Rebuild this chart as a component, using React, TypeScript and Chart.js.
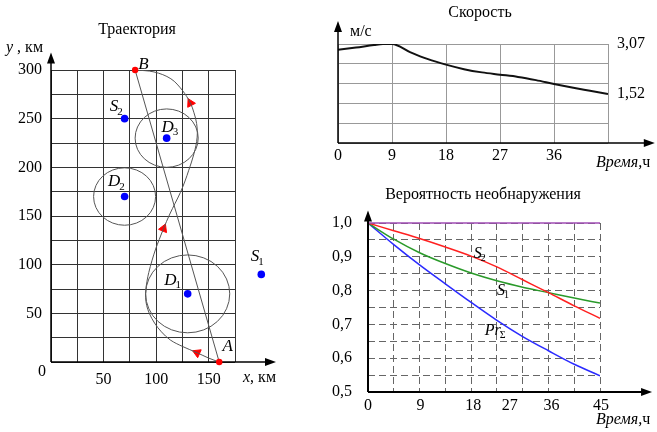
import React, { useEffect, useRef } from 'react';
import { Chart, registerables } from 'chart.js';
Chart.register(...registerables);

const FONT = '"Liberation Serif", "Times New Roman", serif';

// ---------- Trajectory data (km) ----------
const trajectoryPath = [
  { x: 160, y: 0 }, { x: 150, y: 4 }, { x: 139, y: 9.5 }, { x: 125, y: 16 }, { x: 113.5, y: 22.6 },
  { x: 105, y: 31 }, { x: 98.5, y: 40 }, { x: 93.5, y: 50 }, { x: 91, y: 58 }, { x: 90, y: 66 },
  { x: 90.2, y: 74 }, { x: 91.3, y: 83 }, { x: 93, y: 92 }, { x: 96, y: 104 }, { x: 99.5, y: 116 },
  { x: 103, y: 126 }, { x: 107, y: 137 }, { x: 113, y: 152 }, { x: 118, y: 163 }, { x: 123, y: 174 },
  { x: 127.5, y: 186 }, { x: 131, y: 197 }, { x: 136, y: 214 }, { x: 139, y: 231 }, { x: 138.5, y: 245 },
  { x: 136, y: 256 }, { x: 132.6, y: 266 }, { x: 125, y: 279 }, { x: 114, y: 291 }, { x: 98, y: 298 },
  { x: 80, y: 300 },
];
const arrowIdx = [2, 16, 26];
const routeEnds = [{ x: 160, y: 0, name: 'A' }, { x: 80, y: 300, name: 'B' }];
const sensors = [{ x: 200, y: 90, name: 'S', sub: '1' }, { x: 70, y: 250, name: 'S', sub: '2' }];
const zones = [
  { x: 130, y: 70, r: 40, name: 'D', sub: '1' },
  { x: 70, y: 170, r: 29.5, name: 'D', sub: '2' },
  { x: 110, y: 230, r: 30, name: 'D', sub: '3' },
];
const trajLabels = [
  { x: 168, y: 15.7, main: 'A', sub: '' },
  { x: 88, y: 306, main: 'B', sub: '' },
  { x: 194, y: 108, main: 'S', sub: '1' },
  { x: 60, y: 262, main: 'S', sub: '2' },
  { x: 113.5, y: 84, main: 'D', sub: '1' },
  { x: 60, y: 185, main: 'D', sub: '2' },
  { x: 111, y: 241, main: 'D', sub: '3' },
];
const trajAxisEnd = { x: 214, y: 318 };

// ---------- Speed data ----------
const speedHours = [0, 3, 6, 7.5, 9, 12, 15, 18, 21, 24, 27, 30, 33, 36, 39, 42, 45];
const speedValues = [2.89, 2.96, 3.04, 3.07, 3.07, 2.82, 2.6, 2.43, 2.29, 2.19, 2.12, 2.05, 1.95, 1.83, 1.72, 1.62, 1.52];
const speedMarks = [3.07, 1.52];
const speedAxisEnd = { x: 52.8, y: 3.78 };

// ---------- Probability data ----------
const probHours = [0, 5, 10, 15, 20, 25, 30, 35, 40, 45];
const probS2 = [1.0, 0.977, 0.954, 0.929, 0.902, 0.87, 0.832, 0.794, 0.755, 0.718];
const probS1 = [1.0, 0.952, 0.912, 0.88, 0.852, 0.829, 0.81, 0.794, 0.778, 0.763];
const probSum = [1.0, 0.936, 0.876, 0.82, 0.765, 0.712, 0.664, 0.622, 0.582, 0.548];
const probTickLabels = ['0', '9', '18', '27', '36', '45'];
const probTickAt = [0, 10.2, 20.4, 27.5, 35.6, 45.2];
const probCurveLabels = [
  { x: 21.3, y: 0.91, main: 'S', sub: '2' },
  { x: 25.8, y: 0.8, main: 'S', sub: '1' },
  { x: 24.2, y: 0.68, main: 'Pr', sub: 'Σ' },
];
const probAxisEnd = { x: 55.1, y: 1.037 };

function arrowLine(ctx: CanvasRenderingContext2D, x1: number, y1: number, x2: number, y2: number) {
  const a = Math.atan2(y2 - y1, x2 - x1);
  const len = 11, half = 4;
  ctx.beginPath();
  ctx.moveTo(x1, y1);
  ctx.lineTo(x2 - Math.cos(a) * len * 0.7, y2 - Math.sin(a) * len * 0.7);
  ctx.stroke();
  ctx.beginPath();
  ctx.moveTo(x2, y2);
  ctx.lineTo(x2 - len * Math.cos(a) + half * Math.sin(a), y2 - len * Math.sin(a) - half * Math.cos(a));
  ctx.lineTo(x2 - len * Math.cos(a) - half * Math.sin(a), y2 - len * Math.sin(a) + half * Math.cos(a));
  ctx.closePath();
  ctx.fill();
}

function subLabel(ctx: CanvasRenderingContext2D, x: number, y: number, main: string, sub: string, size = 17) {
  ctx.save();
  ctx.fillStyle = '#000';
  ctx.textBaseline = 'middle';
  ctx.font = `italic ${size}px ${FONT}`;
  const w = ctx.measureText(main).width;
  ctx.textAlign = 'left';
  ctx.fillText(main, x - w / 2, y);
  if (sub) {
    ctx.font = `${Math.round(size * 0.62)}px ${FONT}`;
    ctx.fillText(sub, x + w / 2 - 1, y + size * 0.28);
  }
  ctx.restore();
}

function text(ctx: CanvasRenderingContext2D, s: string, x: number, y: number, align: CanvasTextAlign = 'center', font = `16px ${FONT}`) {
  ctx.save();
  ctx.fillStyle = '#000';
  ctx.font = font;
  ctx.textAlign = align;
  ctx.textBaseline = 'middle';
  ctx.fillText(s, x, y);
  ctx.restore();
}

function mixedText(ctx: CanvasRenderingContext2D, parts: [string, boolean][], x: number, y: number, size = 16) {
  ctx.save();
  ctx.fillStyle = '#000';
  ctx.textBaseline = 'middle';
  ctx.textAlign = 'left';
  let cx = x;
  for (const [s, it] of parts) {
    ctx.font = `${it ? 'italic ' : ''}${size}px ${FONT}`;
    ctx.fillText(s, cx, y);
    cx += ctx.measureText(s).width;
  }
  ctx.restore();
}

const fixW = (w: number) => (s: any) => { s.width = w; };
const fixH = (h: number) => (s: any) => { s.height = h; };

export default function App() {
  const r1 = useRef<HTMLCanvasElement>(null);
  const r2 = useRef<HTMLCanvasElement>(null);
  const r3 = useRef<HTMLCanvasElement>(null);

  useEffect(() => {
    const tickFont = { family: FONT, size: 16 };

    // ---------------- Trajectory ----------------
    const trajPlugin = {
      id: 'traj',
      beforeDatasetsDraw(chart: any) {
        const { ctx, scales: { x, y } } = chart;
        ctx.save();
        ctx.strokeStyle = '#555';
        ctx.lineWidth = 1;
        for (const z of zones) {
          const cx = x.getPixelForValue(z.x), cy = y.getPixelForValue(z.y);
          const rx = Math.abs(x.getPixelForValue(z.x + z.r) - cx);
          const ry = Math.abs(y.getPixelForValue(z.y + z.r) - cy);
          ctx.beginPath();
          ctx.ellipse(cx, cy, rx, ry, 0, 0, Math.PI * 2);
          ctx.stroke();
        }
        ctx.restore();
      },
      afterDatasetsDraw(chart: any) {
        const { ctx, scales: { x, y } } = chart;
        ctx.save();
        ctx.fillStyle = '#0000ff';
        for (const p of [...sensors, ...zones]) {
          ctx.beginPath();
          ctx.arc(x.getPixelForValue(p.x), y.getPixelForValue(p.y), 3.8, 0, Math.PI * 2);
          ctx.fill();
        }
        ctx.restore();
      },
      afterDraw(chart: any) {
        const { ctx, chartArea: ca, scales: { x, y } } = chart;
        ctx.save();
        ctx.strokeStyle = '#000';
        ctx.fillStyle = '#000';
        ctx.lineWidth = 1.5;
        arrowLine(ctx, ca.left, ca.bottom, x.getPixelForValue(trajAxisEnd.x), ca.bottom);
        arrowLine(ctx, ca.left, ca.bottom, ca.left, y.getPixelForValue(trajAxisEnd.y));
        ctx.restore();
        ctx.save();
        ctx.fillStyle = '#ff0000';
        for (const p of routeEnds) {
          ctx.beginPath();
          ctx.arc(x.getPixelForValue(p.x), y.getPixelForValue(p.y), 3.2, 0, Math.PI * 2);
          ctx.fill();
        }
        ctx.restore();
        for (const l of trajLabels) subLabel(ctx, x.getPixelForValue(l.x), y.getPixelForValue(l.y), l.main, l.sub);
        text(ctx, 'Траектория', (ca.left + ca.right) / 2 - 6, 30, 'center', `16px ${FONT}`);
        text(ctx, '0', ca.left - 9, ca.bottom + 10, 'center');
        mixedText(ctx, [['y', true], [' , км', false]], 6, 48);
        mixedText(ctx, [['x', true], [', км', false]], 243, 378);
      },
    };

    const c1 = new Chart(r1.current!, {
      type: 'scatter',
      data: {
        datasets: [
          { data: trajectoryPath, showLine: true, borderColor: '#555', borderWidth: 1, pointRadius: 0, tension: 0.35 } as any,
          { data: [routeEnds[1], routeEnds[0]], showLine: true, borderColor: '#555', borderWidth: 1, pointRadius: 0, tension: 0 } as any,
          {
            data: arrowIdx.map((i) => trajectoryPath[i]),
            showLine: false,
            pointStyle: 'triangle',
            pointRadius: 5,
            backgroundColor: '#ff0000',
            borderColor: '#ff0000',
            borderWidth: 1,
            rotation: (c: any) => {
              const i = arrowIdx[c.dataIndex];
              const xs = c.chart.scales.x, ys = c.chart.scales.y;
              if (!xs || !ys || i === undefined) return 0;
              const p0 = trajectoryPath[i - 1], p1 = trajectoryPath[i + 1];
              const dx = xs.getPixelForValue(p1.x) - xs.getPixelForValue(p0.x);
              const dy = ys.getPixelForValue(p1.y) - ys.getPixelForValue(p0.y);
              return (Math.atan2(dx, -dy) * 180) / Math.PI;
            },
          } as any,
        ],
      },
      options: {
        responsive: false,
        animation: false,
        events: [],
        layout: { padding: { left: 6, right: 422, top: 70, bottom: 40 } },
        plugins: { legend: { display: false }, tooltip: { enabled: false }, title: { display: false } },
        scales: {
          x: {
            type: 'linear', min: 0, max: 175,
            ticks: { stepSize: 25, autoSkip: false, maxRotation: 0, padding: 8, color: '#000', font: tickFont, callback: (v: any) => (v % 50 === 0 && v !== 0 ? String(v) : '') },
            grid: { color: '#333', lineWidth: 1, drawTicks: false },
            border: { display: false },
            afterFit: fixH(30),
          } as any,
          y: {
            type: 'linear', min: 0, max: 300,
            ticks: { stepSize: 25, autoSkip: false, padding: 9, color: '#000', font: tickFont, callback: (v: any) => (v % 50 === 0 && v !== 0 ? String(v) : '') },
            grid: { color: '#333', lineWidth: 1, drawTicks: false },
            border: { display: false },
            afterFit: fixW(45),
          } as any,
        },
      },
      plugins: [trajPlugin],
    });

    // ---------------- Speed ----------------
    const speedPlugin = {
      id: 'speed',
      afterDraw(chart: any) {
        const { ctx, chartArea: ca, scales: { x, y } } = chart;
        ctx.save();
        ctx.strokeStyle = '#000';
        ctx.fillStyle = '#000';
        ctx.lineWidth = 1.5;
        arrowLine(ctx, ca.left, ca.bottom, x.getPixelForValue(speedAxisEnd.x), ca.bottom);
        arrowLine(ctx, ca.left, ca.bottom, ca.left, y.getPixelForValue(speedAxisEnd.y));
        ctx.restore();
        for (const m of speedMarks) text(ctx, m.toFixed(2).replace('.', ','), ca.right + 9, y.getPixelForValue(m), 'left');
        text(ctx, 'Скорость', 480, 13);
        text(ctx, 'м/с', ca.left + 12, 32, 'left');
        mixedText(ctx, [['Время,', true], ['ч', false]], 596, 163);
      },
    };

    const c2 = new Chart(r2.current!, {
      type: 'scatter',
      data: {
        datasets: [
          { data: speedHours.map((h, i) => ({ x: h, y: speedValues[i] })), showLine: true, borderColor: '#111', borderWidth: 2, pointRadius: 0, cubicInterpolationMode: 'monotone' } as any,
        ],
      },
      options: {
        responsive: false,
        animation: false,
        events: [],
        layout: { padding: { left: 308, right: 49, top: 44, bottom: 264 } },
        plugins: { legend: { display: false }, tooltip: { enabled: false } },
        scales: {
          x: {
            type: 'linear', min: 0, max: 45,
            ticks: { stepSize: 9, autoSkip: false, maxRotation: 0, padding: 3, color: '#000', font: tickFont, callback: (v: any) => (v < 45 ? String(v) : '') },
            grid: { color: '#999', lineWidth: 1, drawTicks: false },
            border: { display: false },
            afterFit: fixH(25),
          } as any,
          y: {
            type: 'linear', min: 0, max: 3.07,
            ticks: { stepSize: 0.614, display: false },
            grid: { color: '#999', lineWidth: 1, drawTicks: false },
            border: { display: false },
            afterFit: fixW(30),
          } as any,
        },
      },
      plugins: [speedPlugin],
    });

    // ---------------- Probability ----------------
    const probPlugin = {
      id: 'prob',
      afterDraw(chart: any) {
        const { ctx, chartArea: ca, scales: { x, y } } = chart;
        ctx.save();
        ctx.strokeStyle = '#000';
        ctx.fillStyle = '#000';
        ctx.lineWidth = 2;
        arrowLine(ctx, ca.left, ca.bottom, x.getPixelForValue(probAxisEnd.x), ca.bottom);
        arrowLine(ctx, ca.left, ca.bottom, ca.left, y.getPixelForValue(probAxisEnd.y));
        ctx.restore();
        probTickLabels.forEach((t, i) => text(ctx, t, x.getPixelForValue(probTickAt[i]), ca.bottom + 14));
        for (const l of probCurveLabels) subLabel(ctx, x.getPixelForValue(l.x), y.getPixelForValue(l.y), l.main, l.sub, 16);
        text(ctx, 'Вероятность необнаружения', 483, 195);
        mixedText(ctx, [['Время,', true], ['ч', false]], 596, 420);
      },
    };

    const mk = (vals: number[], color: string) => ({
      data: probHours.map((h, i) => ({ x: h, y: vals[i] })),
      showLine: true, borderColor: color, borderWidth: 1.5, pointRadius: 0, cubicInterpolationMode: 'monotone',
    });

    const c3 = new Chart(r3.current!, {
      type: 'scatter',
      data: {
        datasets: [
          { data: [{ x: 0, y: 1 }, { x: 45, y: 1 }], showLine: true, borderColor: '#a04cb4', borderWidth: 1.5, pointRadius: 0, clip: false } as any,
          mk(probS2, '#ff2020') as any,
          mk(probS1, '#2a9a2a') as any,
          mk(probSum, '#2a2aff') as any,
        ],
      },
      options: {
        responsive: false,
        animation: false,
        events: [],
        layout: { padding: { left: 323, right: 57, top: 223, bottom: 10 } },
        plugins: { legend: { display: false }, tooltip: { enabled: false } },
        scales: {
          x: {
            type: 'linear', min: 0, max: 45,
            ticks: { stepSize: 5, display: false },
            grid: { color: '#666', lineWidth: 1, drawTicks: false },
            border: { display: false, dash: [7, 4] },
            afterFit: fixH(30),
          } as any,
          y: {
            type: 'linear', min: 0.5, max: 1.0,
            ticks: {
              stepSize: 0.05, autoSkip: false, padding: 16, color: '#000', font: tickFont,
              callback: (v: any) => (Math.abs(v * 10 - Math.round(v * 10)) < 1e-6 ? Number(v).toFixed(1).replace('.', ',') : ''),
            },
            grid: { color: '#666', lineWidth: 1, drawTicks: false },
            border: { display: false, dash: [7, 4] },
            afterFit: fixW(45),
          } as any,
        },
      },
      plugins: [probPlugin],
    });

    return () => { c1.destroy(); c2.destroy(); c3.destroy(); };
  }, []);

  const cs: React.CSSProperties = { position: 'absolute', left: 0, top: 0 };
  return (
    <div style={{ position: 'fixed', left: 0, top: 0, width: 657, height: 432, background: '#fff' }}>
      <canvas ref={r1} width={657} height={432} style={cs} />
      <canvas ref={r2} width={657} height={432} style={cs} />
      <canvas ref={r3} width={657} height={432} style={cs} />
    </div>
  );
}
